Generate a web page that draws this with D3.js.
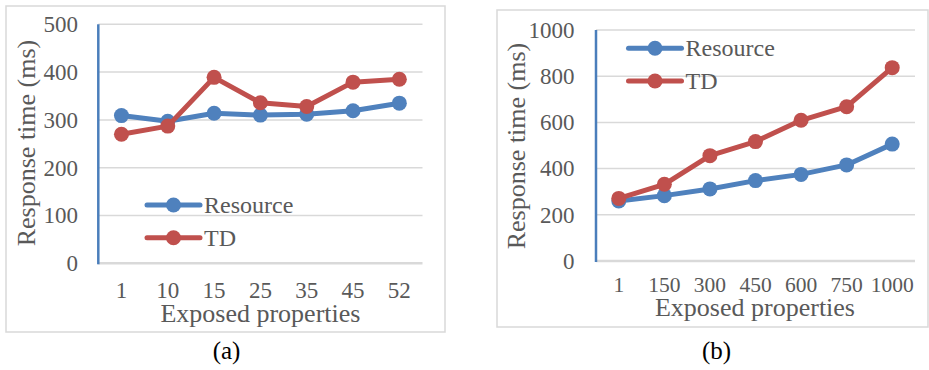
<!DOCTYPE html>
<html>
<head>
<meta charset="utf-8">
<script src="https://cdn.jsdelivr.net/npm/d3@7"></script>
<style>
  html, body { margin: 0; padding: 0; background: #fff; }
  svg { display: block; }
  text { font-family: "Liberation Serif", "Times New Roman", serif; }
</style>
</head>
<body>
<svg id="chart" width="929" height="370"></svg>
<script>
// Panel (a): response time vs. exposed properties, small range
const catsA = ["1", "10", "15", "25", "35", "45", "52"];
const resourceA = [309, 297, 314, 310, 312, 319, 335];
const tdA = [270, 287, 389, 336, 328, 379, 385];
const yTicksA = [0, 100, 200, 300, 400, 500];

// Panel (b): response time vs. exposed properties, large range
const catsB = ["1", "150", "300", "450", "600", "750", "1000"];
const resourceB = [260, 283, 312, 348, 375, 416, 506];
const tdB = [271, 332, 456, 517, 609, 668, 837];
const yTicksB = [0, 200, 400, 600, 800, 1000];

const seriesNames = ["Resource", "TD"];
const seriesColors = ["#4f81bd", "#c0504d"];

const svg = d3.select("#chart");
const textColor = "#595959";

function panel(cfg) {
  const g = svg.append("g");

  // outer frame
  g.append("rect")
    .attr("x", cfg.frame[0]).attr("y", cfg.frame[1])
    .attr("width", cfg.frame[2]).attr("height", cfg.frame[3])
    .attr("fill", "#fff").attr("stroke", "#d9d9d9").attr("stroke-width", 1.5);

  const x = d3.scaleBand().domain(cfg.cats).range([cfg.left, cfg.right]).paddingInner(0).paddingOuter(0);
  const y = d3.scaleLinear().domain([0, cfg.yMax]).range([cfg.bottom, cfg.top]);
  const cx = d => x(d) + x.bandwidth() / 2;

  // horizontal gridlines
  g.selectAll(".grid").data(cfg.yTicks.filter(v => v > 0)).enter().append("line")
    .attr("x1", cfg.left).attr("x2", cfg.right)
    .attr("y1", d => y(d)).attr("y2", d => y(d))
    .attr("stroke", "#d9d9d9").attr("stroke-width", 1.5);

  // category axis line
  g.append("line")
    .attr("x1", cfg.left).attr("x2", cfg.right)
    .attr("y1", y(0)).attr("y2", y(0))
    .attr("stroke", "#d9d9d9").attr("stroke-width", 2.5);

  // value axis line
  g.append("line")
    .attr("x1", cfg.left).attr("x2", cfg.left)
    .attr("y1", y(cfg.yMax)).attr("y2", y(0) + 1)
    .attr("stroke", "#4a7ebb").attr("stroke-width", 2.5);

  // y tick labels
  g.selectAll(".ytick").data(cfg.yTicks).enter().append("text")
    .attr("x", cfg.yLabelX).attr("y", d => y(d)).attr("dy", "0.34em")
    .attr("text-anchor", "end").attr("font-size", 23).attr("fill", textColor)
    .text(d => d);

  // x tick labels
  g.selectAll(".xtick").data(cfg.cats).enter().append("text")
    .attr("x", d => cx(d)).attr("y", cfg.xLabelY)
    .attr("text-anchor", "middle").attr("font-size", cfg.xFont).attr("fill", textColor)
    .text(d => d);

  // axis titles
  g.append("text")
    .attr("x", (cfg.left + cfg.right) / 2 + cfg.xTitleShift).attr("y", cfg.xTitleY)
    .attr("text-anchor", "middle").attr("font-size", 26).attr("fill", textColor)
    .text("Exposed properties");
  g.append("text")
    .attr("transform", `translate(${cfg.yTitleX},${cfg.yTitleY}) rotate(-90)`)
    .attr("text-anchor", "middle").attr("font-size", 26).attr("fill", textColor)
    .text("Response time (ms)");

  // series lines and markers
  const line = d3.line().x((d, i) => cx(cfg.cats[i])).y(d => y(d));
  cfg.series.forEach((vals, si) => {
    g.append("path").datum(vals)
      .attr("d", line).attr("fill", "none")
      .attr("stroke", seriesColors[si]).attr("stroke-width", 5)
      .attr("stroke-linejoin", "round");
    g.selectAll(".pt" + si).data(vals).enter().append("circle")
      .attr("cx", (d, i) => cx(cfg.cats[i])).attr("cy", d => y(d))
      .attr("r", 7.5).attr("fill", seriesColors[si]);
  });

  // legend
  seriesNames.forEach((name, si) => {
    const ly = cfg.legend[1] + si * cfg.legendGap;
    const lx = cfg.legend[0];
    g.append("line")
      .attr("x1", lx).attr("x2", lx + 53).attr("y1", ly).attr("y2", ly)
      .attr("stroke", seriesColors[si]).attr("stroke-width", 5).attr("stroke-linecap", "round");
    g.append("circle").attr("cx", lx + 26.5).attr("cy", ly).attr("r", 7.5).attr("fill", seriesColors[si]);
    g.append("text")
      .attr("x", lx + 57).attr("y", ly).attr("dy", "0.34em")
      .attr("font-size", 24).attr("fill", textColor)
      .text(name);
  });

  // caption
  g.append("text")
    .attr("x", cfg.caption[0]).attr("y", cfg.caption[1])
    .attr("text-anchor", "middle").attr("font-size", 25).attr("fill", "#000")
    .text(cfg.captionText);
}

panel({
  frame: [6, 6, 439, 326],
  cats: catsA, series: [resourceA, tdA], yMax: 500, yTicks: yTicksA,
  left: 98.3, right: 422.5, top: 24.3, bottom: 263.3,
  yLabelX: 78, xLabelY: 298, xFont: 23,
  xTitleY: 322, xTitleShift: 0,
  yTitleX: 35, yTitleY: 143,
  legend: [147, 205], legendGap: 32.7,
  caption: [226.5, 358.5], captionText: "(a)"
});

panel({
  frame: [497, 10, 431, 317],
  cats: catsB, series: [resourceB, tdB], yMax: 1000, yTicks: yTicksB,
  left: 596, right: 915, top: 30, bottom: 261,
  yLabelX: 574.5, xLabelY: 292, xFont: 21.5,
  xTitleY: 316, xTitleShift: -0.5,
  yTitleX: 525, yTitleY: 146,
  legend: [628.5, 48.3], legendGap: 32.7,
  caption: [716.5, 358.5], captionText: "(b)"
});
</script>
</body>
</html>
